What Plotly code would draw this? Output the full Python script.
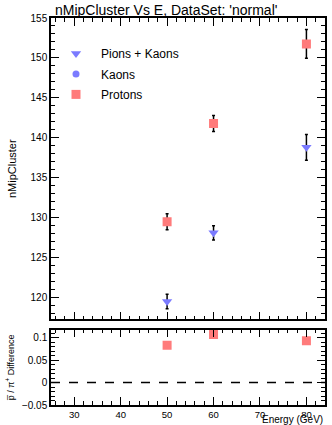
import plotly.graph_objects as go

energy = [50, 60, 80]
pk_vals = [119.5, 128.1, 138.8]
pk_err = [0.9, 0.9, 1.6]
kaon_vals = [None]
kaon_energy = [None]
prot_vals = [129.5, 141.8, 151.75]
prot_err = [1.0, 1.0, 1.8]
diff_vals = [0.083, 0.107, 0.093]

blue = "#7b7bff"
red = "#ff7b7b"
font = "Liberation Sans, Arial, sans-serif"

fig = go.Figure()
fig.add_trace(go.Scatter(x=energy, y=pk_vals, mode="markers", name="Pions + Kaons", legendgroup="a",
                         marker=dict(symbol="triangle-down", color=blue, size=9),
                         error_y=dict(type="data", array=pk_err, color="black", thickness=1.5, width=1.5),
                         xaxis="x", yaxis="y"))
fig.add_trace(go.Scatter(x=kaon_energy, y=kaon_vals, mode="markers", name="Kaons", legendgroup="b",
                         marker=dict(symbol="circle", color=blue, size=7),
                         xaxis="x", yaxis="y"))
fig.add_trace(go.Scatter(x=energy, y=prot_vals, mode="markers", name="Protons", legendgroup="c",
                         marker=dict(symbol="square", color=red, size=9),
                         error_y=dict(type="data", array=prot_err, color="black", thickness=1.5, width=1.5),
                         xaxis="x", yaxis="y"))
fig.add_trace(go.Scatter(x=energy, y=diff_vals, mode="markers", showlegend=False,
                         marker=dict(symbol="square", color=red, size=9),
                         xaxis="x2", yaxis="y2"))

axis_common = dict(showline=True, linecolor="black", linewidth=1.5, mirror="ticks",
                   ticks="inside", tickcolor="black", tickwidth=1.2, showgrid=False, zeroline=False,
                   tickfont=dict(family=font, size=10, color="black"))

fig.update_layout(
    width=332, height=425,
    margin=dict(l=51, r=5, t=18, b=18),
    paper_bgcolor="white", plot_bgcolor="white",
    font=dict(family=font, color="black"),
    xaxis=dict(domain=[0, 1], range=[25, 84], anchor="y", showticklabels=False,
               dtick=10, ticklen=8, minor=dict(dtick=2, ticklen=4, ticks="inside", tickcolor="black"),
               **axis_common),
    yaxis=dict(domain=[0.221, 1], range=[117.25, 155], dtick=5, ticklen=8,
               minor=dict(dtick=1, ticklen=4, ticks="inside", tickcolor="black"),
               title=dict(text="nMipCluster", font=dict(size=11, family=font), standoff=12),
               **axis_common),
    xaxis2=dict(domain=[0, 1], range=[25, 84], anchor="y2", dtick=10, ticklen=8,
                minor=dict(dtick=2, ticklen=4, ticks="inside", tickcolor="black"),
                **{**axis_common, "tickfont": dict(family=font, size=9.5, color="black")}),
    yaxis2=dict(domain=[0, 0.195], range=[-0.05, 0.118], dtick=0.05, ticklen=8,
                minor=dict(dtick=0.01, ticklen=4, ticks="inside", tickcolor="black"),
                title=dict(text="p\u0305 / \u03c0<sup>+</sup> Difference", font=dict(size=9, family=font), standoff=6),
                **axis_common),
    legend=dict(x=0.0, y=0.946, xanchor="left", yanchor="top", bgcolor="rgba(0,0,0,0)",
                font=dict(size=12, family=font), tracegroupgap=1.5, itemwidth=40),
    shapes=[dict(type="line", xref="x2 domain", yref="y2", x0=0, x1=1, y0=0, y1=0,
                 line=dict(color="black", width=1.5, dash="dash"))],
    annotations=[
        dict(text="nMipCluster Vs E, DataSet: 'normal'", xref="paper", yref="paper",
             x=0.42, y=1.021, xanchor="center", yanchor="middle", showarrow=False,
             font=dict(size=14, family=font)),
        dict(text="Energy (GeV)", xref="paper", yref="paper", x=1.0, y=-0.037,
             xanchor="right", yanchor="middle", showarrow=False,
             font=dict(size=10, family=font)),
    ],
)

fig.write_html("out.html", config={"displayModeBar": False},
               post_script="document.body.style.margin='0';")
